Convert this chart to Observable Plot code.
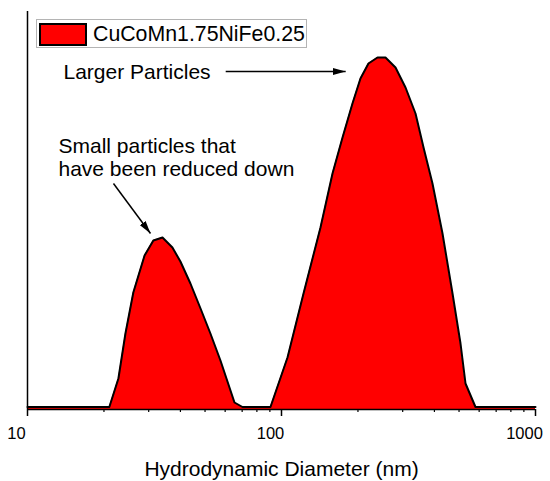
<!DOCTYPE html>
<html>
<head>
<meta charset="utf-8">
<script src="https://cdn.jsdelivr.net/npm/d3@7"></script>
<script src="https://cdn.jsdelivr.net/npm/@observablehq/plot@0.6"></script>
<style>
  html, body { margin: 0; padding: 0; background: #fff; }
  #wrap { position: relative; width: 550px; height: 481px; font-family: "Liberation Sans", Arial, sans-serif; }
  #legend { position: absolute; left: 36px; top: 19px; width: 269px; height: 27px; border: 1px solid #b4b4b4; background: #fff; }
  #legend .sw { position: absolute; left: 2px; top: 3px; width: 44px; height: 19px; background: #ff0000; border: 2px solid #000; }
  #legend .lab { position: absolute; left: 56px; top: 2px; font-size: 21.3px; line-height: 24px; color: #000; white-space: nowrap; }
</style>
</head>
<body>
<div id="wrap"><div id="chart"></div>
<div id="legend"><div class="sw"></div><div class="lab"></div></div>
</div>
<script>
// Series name
const seriesName = "CuCoMn1.75NiFe0.25";
// Hydrodynamic diameter (nm)
const diameters = [10, 21.0, 22.8, 24.3, 26.1, 28.9, 31.3, 34.0, 37.2, 40.0, 43.8, 48.0, 52.5, 57.5, 65.3, 70.2, 90.5,
  105.6, 122.1, 142.4, 158.8, 173.9, 190.3, 204.6, 220.0, 238.8, 256.7, 281.1, 307.8, 337.0, 362.4, 393.0, 430.4, 471.3, 506.7, 530.2, 580.4, 1000];
// Intensity (relative)
const intensities = [0, 0, 1.14, 2.94, 4.58, 6.06, 6.66, 6.78, 6.38, 5.82, 4.94, 3.94, 2.94, 1.86, 0.18, 0, 0,
  1.98, 4.54, 7.18, 9.34, 10.78, 12.14, 13.14, 13.74, 13.98, 13.98, 13.58, 12.78, 11.74, 10.38, 8.94, 6.94, 4.54, 2.54, 0.94, 0, 0];
// Axis ticks
const majorTicks = [10, 100, 1000];
const tickLabels = ["10", "100", "1000"];
const minorTicks = [20, 30, 40, 50, 60, 70, 80, 90, 200, 300, 400, 500, 600, 700, 800, 900];
const xLabel = "Hydrodynamic Diameter (nm)";
// Annotations
const noteTexts = ["Larger Particles", "Small particles that", "have been reduced down"];
const noteX = [13.86, 13.24, 13.24];
const noteY = [13.14, 10.18, 9.26];
const arrowX1 = [60.3, 21.8], arrowY1 = [13.42, 8.94];
const arrowX2 = [178.9, 30.5], arrowY2 = [13.42, 6.94];

const yMin = -0.1, yMax = 15.82;
const data = diameters.map((d, i) => ({d, v: intensities[i]}));
const notes = noteTexts.map((t, i) => ({t, x: noteX[i], y: noteY[i]}));
const arrows = arrowX1.map((x, i) => ({x1: x, y1: arrowY1[i], x2: arrowX2[i], y2: arrowY2[i]}));
const ticks = majorTicks.map((v, i) => ({v, label: tickLabels[i]}));

document.querySelector("#legend .lab").textContent = seriesName;

function filledArrow(color) {
  const m = d3.create("svg:marker")
    .attr("viewBox", "-13 -4 13 8")
    .attr("markerWidth", 13)
    .attr("markerHeight", 8)
    .attr("markerUnits", "userSpaceOnUse")
    .attr("refX", 0).attr("refY", 0)
    .attr("orient", "auto");
  m.append("path").attr("d", "M-13,-3.5L0,0L-13,3.5Z").attr("fill", color).attr("stroke", "none");
  return m.node();
}

const chart = Plot.plot({
  width: 550, height: 481,
  marginLeft: 27, marginRight: 15, marginTop: 11, marginBottom: 72,
  style: {fontFamily: "'Liberation Sans', Arial, sans-serif", color: "#000", background: "#fff"},
  x: {type: "log", domain: [10, 1000], axis: null},
  y: {domain: [yMin, yMax], axis: null},
  marks: [
    Plot.areaY(data, {x: "d", y1: yMin, y2: "v", fill: "#ff0000", curve: "linear"}),
    Plot.line(data, {x: "d", y: "v", stroke: "#000", strokeWidth: 2, curve: "linear"}),
    Plot.ruleY([yMin], {stroke: "#000", strokeWidth: 1.5}),
    Plot.ruleX([10], {y1: yMin, y2: yMax, stroke: "#000", strokeWidth: 1.5}),
    Plot.axisX({ticks: minorTicks, tickSize: 3, tickFormat: () => "", strokeWidth: 1.2}),
    Plot.axisX({ticks: majorTicks, tickSize: 7, tickFormat: () => "", strokeWidth: 1.5}),
    Plot.text(ticks, {x: "v", text: "label", frameAnchor: "bottom", dy: 29, dx: -11, lineAnchor: "bottom", fontSize: 16.5, fill: "#000"}),
    Plot.text([xLabel], {frameAnchor: "bottom", dy: 66, lineAnchor: "bottom", fontSize: 21, fill: "#000"}),
    Plot.text(notes, {x: "x", y: "y", text: "t", textAnchor: "start", lineAnchor: "bottom", fontSize: 21, fill: "#000"}),
    Plot.link(arrows, {x1: "x1", y1: "y1", x2: "x2", y2: "y2", stroke: "#000", strokeWidth: 1.5, markerEnd: filledArrow})
  ]
});
document.getElementById("chart").appendChild(chart);
</script>
</body>
</html>
